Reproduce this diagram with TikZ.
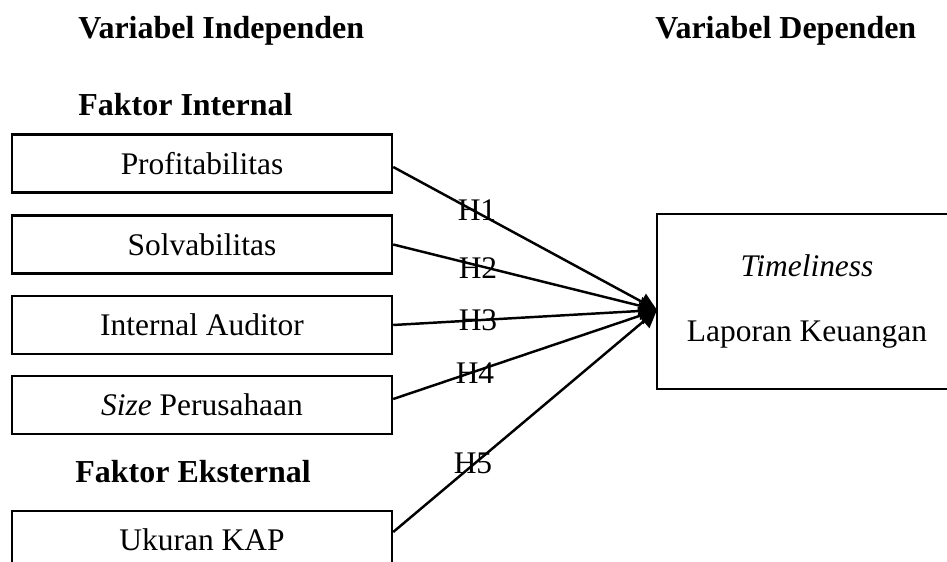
\documentclass[tikz,border=0pt]{standalone}
\usepackage{fontspec}
\setmainfont{Liberation Serif}
\usetikzlibrary{arrows.meta}

\begin{document}
\begin{tikzpicture}[
        font=\fontsize{17.9}{21.5}\selectfont,
        varbox/.style={draw,line width=1.4pt,minimum width=7.6cm,minimum height=1.16cm,inner sep=0pt},
        judul/.style={anchor=base west,inner sep=0pt,font=\fontsize{18.2}{21.5}\selectfont\bfseries},
        panah/.style={line width=1.4pt,-{Triangle[length=10pt,width=10pt]}}
    ]
                \useasboundingbox (0,0) rectangle (18.94,11.22);

                \node[judul] (indep) at (1.56,10.44) {Variabel Independen};
                \node[judul] (dep) at (13.10,10.44) {Variabel Dependen};
                \node[judul] (internal) at (1.56,8.92) {Faktor Internal};
                \node[judul] (eksternal) at (1.50,1.58) {Faktor Eksternal};

                \node[varbox] (prof) at (4.04,7.95) {Profitabilitas};
                \node[varbox] (solv) at (4.04,6.33) {Solvabilitas};
                \node[varbox] (audit) at (4.04,4.72) {Internal Auditor};
                \node[varbox] (ukuran) at (4.04,3.12) {\textit{Size} Perusahaan};
                \node[varbox] (kap) at (4.04,0.42) {Ukuran KAP};

                \node[draw,line width=1.4pt,minimum width=6cm,minimum height=3.5cm,align=center] (timely) at (16.14,5.19)
                    {\textit{Timeliness}\\[15.5pt]Laporan Keuangan};
                \coordinate (tip) at (13.14,5.02);

                \draw[panah] ([yshift=-0.07cm]prof.east) -- (tip);
                \draw[panah] (solv.east) -- (tip);
                \draw[panah] (audit.east) -- (tip);
                \draw[panah] ([yshift=0.12cm]ukuran.east) -- (tip);
                \draw[panah] ([yshift=0.16cm]kap.east) -- (tip);

                \node (h1) at (9.54,7.02) {H1};
                \node (h2) at (9.56,5.86) {H2};
                \node (h3) at (9.56,4.82) {H3};
                \node (h4) at (9.50,3.76) {H4};
                \node (h5) at (9.46,1.96) {H5};
            \end{tikzpicture}
\end{document}
